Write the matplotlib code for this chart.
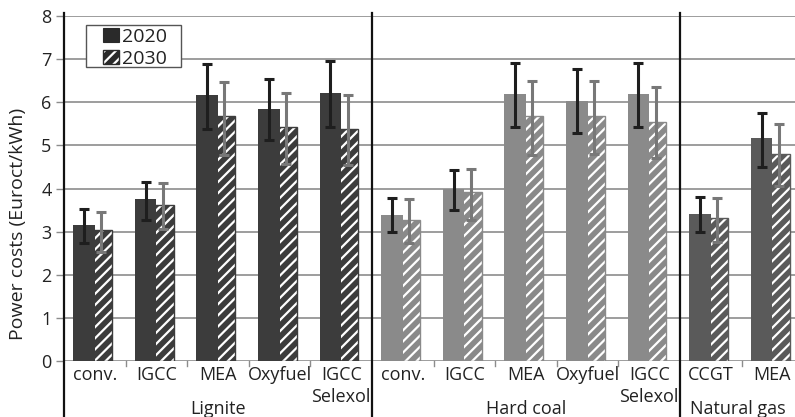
import matplotlib
matplotlib.use("Agg")
import matplotlib.pyplot as plt
from matplotlib.patches import Rectangle

plt.rcParams['font.family'] = ['Open Sans', 'DejaVu Sans']
plt.rcParams['hatch.linewidth'] = 1.6

categories = ["conv.", "IGCC", "MEA", "Oxyfuel", "IGCC\nSelexol",
              "conv.", "IGCC", "MEA", "Oxyfuel", "IGCC\nSelexol",
              "CCGT", "MEA"]
groups = ["Lignite", "Hard coal", "Natural gas"]
group_of = [0]*5 + [1]*5 + [2]*2
series = ["2020", "2030"]

v2020 = [3.15, 3.75, 6.17, 5.84, 6.21, 3.39, 4.00, 6.19, 6.04, 6.19, 3.41, 5.16]
lo2020 = [2.74, 3.27, 5.39, 5.12, 5.43, 2.98, 3.50, 5.43, 5.29, 5.43, 2.98, 4.51]
hi2020 = [3.52, 4.15, 6.89, 6.53, 6.96, 3.79, 4.44, 6.92, 6.76, 6.92, 3.81, 5.76]

v2030 = [3.04, 3.62, 5.67, 5.43, 5.39, 3.28, 3.91, 5.67, 5.68, 5.55, 3.31, 4.79]
lo2030 = [2.53, 3.06, 4.78, 4.57, 4.54, 2.74, 3.27, 4.78, 4.80, 4.70, 2.77, 4.05]
hi2030 = [3.45, 4.13, 6.48, 6.22, 6.17, 3.75, 4.46, 6.49, 6.49, 6.35, 3.77, 5.49]

group_colors = ["#3c3c3c", "#8a8a8a", "#5a5a5a"]
TXT = "#222222"
FS = 13

W, H = 795, 417
fig = plt.figure(figsize=(W/100, H/100), dpi=100)
ax_l, ax_top, ax_bot = 64, 16, 361
ax = fig.add_axes([ax_l/W, (H-ax_bot)/H, (W-ax_l)/W, (ax_bot-ax_top)/H])

gw = 61.6
xmax = -0.5 + (W-ax_l)/gw
ax.set_xlim(-0.5, xmax)
ax.set_ylim(0, 8)

bw = 0.35
for i in range(len(categories)):
    c = group_colors[group_of[i]]
    x30 = i + 0.105
    x20 = i - 0.175
    ax.bar(x30, v2030[i], width=bw, color=c, edgecolor="white", linewidth=0,
           hatch="///", zorder=2)
    ax.bar(x30, v2030[i], width=bw, fill=False, edgecolor=c, linewidth=1.0, zorder=2.1)
    ax.bar(x20, v2020[i], width=bw, color=c, linewidth=0, zorder=2.2)
    ax.errorbar(x30, v2030[i], yerr=[[v2030[i]-lo2030[i]], [hi2030[i]-v2030[i]]],
                fmt="none", ecolor="#787878", elinewidth=2.2, capsize=3.4,
                capthick=2.2, zorder=3)
    ax.errorbar(x20, v2020[i], yerr=[[v2020[i]-lo2020[i]], [hi2020[i]-v2020[i]]],
                fmt="none", ecolor="#1e1e1e", elinewidth=2.2, capsize=3.4,
                capthick=2.2, zorder=3.1)

# grid
ax.set_yticks(range(0, 9))
ax.yaxis.grid(True, color="#8c8c8c", linewidth=1.2, zorder=0)
ax.set_axisbelow(True)
for s in ["top", "right", "bottom", "left"]:
    ax.spines[s].set_visible(False)
ax.tick_params(axis="y", length=6, width=1.0, color="#8c8c8c", pad=3,
               labelsize=FS, labelcolor=TXT)
ax.tick_params(axis="x", length=0, labelbottom=False)

# y axis line and separators extending to bottom of figure
bx = ax.get_xaxis_transform()
px = 1/(ax_bot-ax_top)
ext = -(H-ax_bot)*px
for xs in [-0.5, 4.5, 9.5]:
    ax.plot([xs, xs], [ext, 1.0 + 3*px], transform=bx, color="#111111", lw=1.6,
            clip_on=False, zorder=4)

# small ticks between categories
for xs in [0.5, 1.5, 2.5, 3.5, 5.5, 6.5, 7.5, 8.5, 10.5]:
    ax.plot([xs, xs], [0, -5*px], transform=bx, color="#8c8c8c", lw=1.0,
            clip_on=False)

def ypos(pixel_y):
    return (ax_bot - pixel_y) * px

for i, lab in enumerate(categories):
    for k, ln in enumerate(lab.split("\n")):
        ax.text(i, ypos(380 + 22*k), ln, transform=bx, ha="center",
                va="baseline", fontsize=FS, color=TXT)

gx = [2.0, 7.0, (9.5 + xmax)/2]
for g, x in zip(groups, gx):
    ax.text(x, ypos(414), g, transform=bx, ha="center", va="baseline",
            fontsize=FS, color=TXT)

ax.set_ylabel("Power costs (Euroct/kWh)", fontsize=14, color=TXT)
ax.yaxis.set_label_coords((27-ax_l)/(W-ax_l), (ax_bot-224)*px)

# legend (drawn in figure pixel positions)
def fx(p):
    return p / W
def fy(p):
    return (H - p) / H

ft = fig.transFigure
fig.patches.append(Rectangle((fx(86), fy(67)), 95/W, 42/H, transform=ft,
                             facecolor="white", edgecolor="#555555",
                             linewidth=1.0, zorder=5))
# 2020 key
fig.patches.append(Rectangle((fx(103), fy(42)), 16/W, 13.5/H, transform=ft,
                             facecolor="#2a2a2a", edgecolor="#2a2a2a",
                             linewidth=0.8, zorder=6))
# 2030 key
fig.patches.append(Rectangle((fx(103), fy(64)), 16/W, 14/H, transform=ft,
                             facecolor="#2a2a2a", edgecolor="white",
                             hatch="///", linewidth=0, zorder=6))
fig.patches.append(Rectangle((fx(103), fy(64)), 16/W, 14/H, transform=ft,
                             fill=False, edgecolor="#2a2a2a",
                             linewidth=1.0, zorder=6.1))
fig.text(fx(122), fy(42), series[0], fontsize=14, color=TXT, ha="left",
         va="baseline", zorder=6)
fig.text(fx(122), fy(64), series[1], fontsize=14, color=TXT, ha="left",
         va="baseline", zorder=6)

fig.savefig("out.png", dpi=100)
